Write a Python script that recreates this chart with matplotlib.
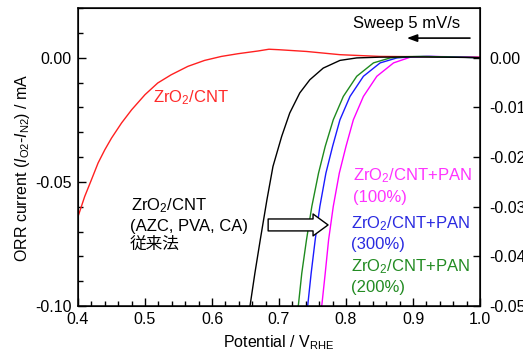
import matplotlib
matplotlib.use('Agg')
import matplotlib.pyplot as plt
from matplotlib.ticker import MultipleLocator, FormatStrFormatter, FixedLocator, FuncFormatter

plt.rcParams['font.family'] = ['Liberation Sans', 'Noto Sans CJK JP']
plt.rcParams['mathtext.fontset'] = 'custom'
plt.rcParams['mathtext.rm'] = 'Liberation Sans'
plt.rcParams['mathtext.it'] = 'Liberation Sans:italic'

# LSV curves: potential (V vs RHE) and ORR current (mA)
red_x = [0.400, 0.410, 0.420, 0.430, 0.440, 0.450, 0.465, 0.480, 0.500, 0.519, 0.539, 0.564,
         0.589, 0.614, 0.639, 0.669, 0.685, 0.700, 0.741, 0.791, 0.851, 0.910, 1.000]
red_y = [-0.0640, -0.0559, -0.0492, -0.0424, -0.0371, -0.0324, -0.0263, -0.0210, -0.0149, -0.0102,
         -0.0069, -0.0035, -0.0011, 0.0005, 0.0016, 0.0027, 0.0034, 0.0032, 0.0025, 0.0012, 0.0005,
         0.0004, 0.0002]

black_x = [0.656, 0.657, 0.664, 0.672, 0.682, 0.691, 0.704, 0.716, 0.731, 0.746, 0.766, 0.791,
           0.816, 0.850, 0.900, 0.950, 1.000]
black_y = [-0.101, -0.0995, -0.0868, -0.0734, -0.0572, -0.0438, -0.0317, -0.0223, -0.0142, -0.0089,
           -0.0042, -0.0011, -0.0001, 0.0002, 0.0003, 0.0002, 0.0000]

green_x = [0.728, 0.729, 0.734, 0.741, 0.749, 0.759, 0.769, 0.781, 0.796, 0.816, 0.841, 0.866,
           0.890, 0.915, 0.950, 1.000]
green_y = [-0.101, -0.0995, -0.0868, -0.0734, -0.0599, -0.0465, -0.0357, -0.0250, -0.0156, -0.0075,
           -0.0021, -0.0001, 0.0004, 0.0005, 0.0003, 0.0000]

blue_x = [0.742, 0.743, 0.748, 0.754, 0.761, 0.770, 0.780, 0.791, 0.806, 0.826, 0.851, 0.876,
          0.900, 0.925, 0.955, 1.000]
blue_y = [-0.101, -0.0995, -0.0868, -0.0734, -0.0599, -0.0465, -0.0357, -0.0250, -0.0156, -0.0075,
          -0.0021, -0.0001, 0.0004, 0.0005, 0.0003, 0.0000]

magenta_x = [0.763, 0.764, 0.769, 0.774, 0.781, 0.790, 0.800, 0.811, 0.826, 0.846, 0.871, 0.896,
             0.920, 0.950, 1.000]
magenta_y = [-0.101, -0.0995, -0.0868, -0.0734, -0.0599, -0.0465, -0.0357, -0.0250, -0.0156, -0.0075,
             -0.0021, 0.0002, 0.0005, 0.0004, 0.0001]

right_ticks = [0.00, -0.01, -0.02, -0.03, -0.04, -0.05]

fig = plt.figure(figsize=(5.23, 3.57), dpi=100)
ax = fig.add_axes([78 / 523, 1 - 306 / 357, 402 / 523, 298 / 357])

ax.plot(red_x, red_y, color='#ff2020', lw=1.0)
ax.plot(magenta_x, magenta_y, color='#ff00ff', lw=1.0)
ax.plot(blue_x, blue_y, color='#1a1aff', lw=1.0)
ax.plot(green_x, green_y, color='#1e8a1e', lw=1.0)
ax.plot(black_x, black_y, color='black', lw=1.0)

ax.set_xlim(0.4, 1.0)
ax.set_ylim(-0.10, 0.02)
ax.xaxis.set_major_locator(MultipleLocator(0.1))
ax.xaxis.set_minor_locator(MultipleLocator(0.02))
ax.xaxis.set_major_formatter(FormatStrFormatter('%.1f'))
ax.yaxis.set_major_locator(MultipleLocator(0.05))
ax.yaxis.set_minor_locator(MultipleLocator(0.01))
ax.yaxis.set_major_formatter(FuncFormatter(lambda v, p: '%.2f' % (0.0 if abs(v) < 1e-9 else v)))
ax.tick_params(which='both', direction='in', top=False, right=False, labelsize=11.5, width=1.0)
ax.tick_params(which='major', length=6)
ax.tick_params(which='minor', length=3.5)
ax.tick_params(axis='y', pad=4.5)
ax.tick_params(axis='x', pad=4)
for s in ax.spines.values():
    s.set_linewidth(1.1)

ax2 = ax.twinx()
ax2.set_ylim(-0.05, 0.01)
ax2.yaxis.set_major_locator(FixedLocator(right_ticks))
ax2.yaxis.set_major_formatter(FuncFormatter(lambda v, p: '%.2f' % (0.0 if abs(v) < 1e-9 else v)))
ax2.tick_params(direction='in', length=5, width=1.0, labelsize=11.5, pad=7)

ax.set_xlabel(r'Potential / V$_{\rm RHE}$', fontsize=11.5)
ax.xaxis.set_label_coords(0.5, -0.09)
ax.set_ylabel(r'ORR current ($I_{\rm O2}$-$I_{\rm N2}$) / mA', fontsize=11.5)
ax.yaxis.set_label_coords(-0.114, 0.463)

# sample labels
fs = 12
ax.text(0.186, 0.685, r'ZrO$_2$/CNT', color='#ff2a2a', fontsize=fs, transform=ax.transAxes)
ax.text(0.131, 0.322, r'ZrO$_2$/CNT', color='black', fontsize=fs, transform=ax.transAxes)
ax.text(0.129, 0.252, '(AZC, PVA, CA)', color='black', fontsize=fs, transform=ax.transAxes)
ax.text(0.129, 0.191, '従来法', color='black', fontsize=fs, transform=ax.transAxes)

ax.text(0.684, 0.423, r'ZrO$_2$/CNT+PAN', color='#ff33ff', fontsize=fs, transform=ax.transAxes)
ax.text(0.684, 0.350, '(100%)', color='#ff33ff', fontsize=fs, transform=ax.transAxes)
ax.text(0.679, 0.262, r'ZrO$_2$/CNT+PAN', color='#2a2ae0', fontsize=fs, transform=ax.transAxes)
ax.text(0.679, 0.191, '(300%)', color='#2a2ae0', fontsize=fs, transform=ax.transAxes)
ax.text(0.679, 0.115, r'ZrO$_2$/CNT+PAN', color='#228b22', fontsize=fs, transform=ax.transAxes)
ax.text(0.679, 0.048, '(200%)', color='#228b22', fontsize=fs, transform=ax.transAxes)

ax.text(0.684, 0.933, 'Sweep 5 mV/s', color='black', fontsize=fs, transform=ax.transAxes)
ax.annotate('', xy=(0.818, 0.899), xytext=(0.975, 0.899), xycoords='axes fraction',
            arrowprops=dict(arrowstyle='-|>,head_length=0.6,head_width=0.22', color='black',
                            lw=1.2, shrinkA=0, shrinkB=0))

# hollow block arrow
ax.annotate('', xy=(0.622, 0.272), xytext=(0.473, 0.272), xycoords='axes fraction',
            arrowprops=dict(arrowstyle='simple,head_length=10.8,head_width=15.8,tail_width=8.6',
                            mutation_scale=1, fc='white', ec='black', lw=1.0,
                            shrinkA=0, shrinkB=0))

fig.savefig('out.png', dpi=100)
